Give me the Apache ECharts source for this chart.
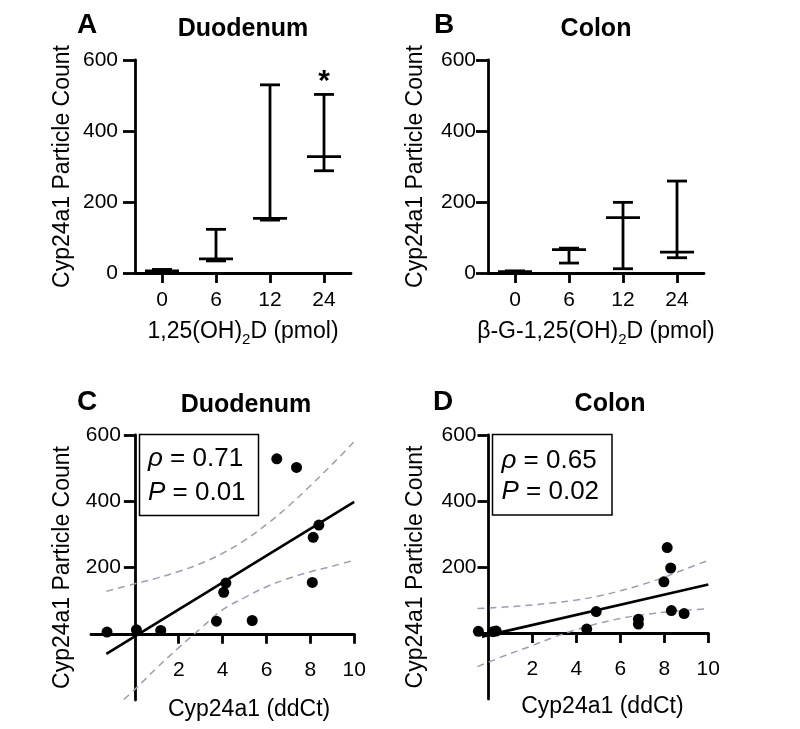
<!DOCTYPE html>
<html>
<head>
<meta charset="utf-8">
<script src="https://cdn.jsdelivr.net/npm/echarts@6/dist/echarts.min.js"></script>
<style>
  html, body { margin: 0; padding: 0; background: #fff; }
  #chart { width: 800px; height: 729px; }
</style>
</head>
<body>
<div id="chart"></div>
<script>
// ---------- DATA ----------
const doseCats = ['0', '6', '12', '24'];

// Panel A: Duodenum, 1,25(OH)2D  (median with range)
const duoMedian = [6, 40, 154, 328];
const duoLow    = [3, 34, 149, 288];
const duoHigh   = [10, 123, 530, 503];
const duoSig    = ['', '', '', '*'];

// Panel B: Colon, beta-G-1,25(OH)2D
const colMedian = [4, 66, 156, 59];
const colLow    = [2, 28, 12, 43];
const colHigh   = [6, 70, 199, 259];

// Panel C: Duodenum correlation
const duoDdct  = [-1.27, 0.07, 1.18, 3.72, 4.05, 4.15, 5.35, 6.47, 7.37, 8.09, 8.13, 8.39];
const duoCount = [5, 12, 10, 38, 125, 153, 40, 528, 502, 155, 291, 328];
const duoFitX  = [-1.3, 10];
const duoFitY  = [-61, 398];
const duoUpX   = [-1.3, 0, 1, 2, 3, 4, 5, 6, 7, 8, 9, 10];
const duoUpY   = [128, 151, 168, 188, 212, 243, 282, 330, 385, 447, 512, 580];
const duoLoX   = [-0.5, 0, 1, 2, 3, 4, 5, 6, 7, 8, 9, 10];
const duoLoY   = [-198, -168, -103, -42, 16, 72, 109, 142, 167, 187, 204, 222];
const duoRho = '0.71';
const duoP   = '0.01';

// Panel D: Colon correlation
const colDdct  = [-0.46, 0.2, 0.35, 4.47, 4.9, 6.82, 6.82, 7.98, 8.13, 8.29, 8.32, 8.9];
const colCount = [5, 4, 6, 12, 65, 42, 27, 155, 259, 197, 68, 59];
const colFitX  = [-0.3, 10];
const colFitY  = [-11, 147];
const colUpX   = [-0.5, 1, 2, 3, 4, 5, 6, 7, 8, 9, 10];
const colUpY   = [74, 80, 85, 92, 100, 112, 128, 147, 169, 195, 220];
const colLoX   = [-0.5, 1, 2, 3, 4, 5, 6, 7, 8, 9, 10];
const colLoY   = [-102, -62, -38, -12, 10, 29, 44, 55, 63, 69, 74];
const colRho = '0.65';
const colP   = '0.02';

const ddctTicks = [2, 4, 6, 8, 10];
const countTicksCorr = [200, 400, 600];

// ---------- STYLE / LAYOUT ----------
const FONT = 'Liberation Sans, Arial, Helvetica, sans-serif';
const AX_W = 2.8;
const BAND_COLOR = '#9d9db3';

const gridA = { left: 135, top: 60, width: 216, height: 213 };
const gridB = { left: 488, top: 60, width: 216, height: 213 };
const gridC = { left: 91, top: 435, width: 263.2, height: 265 };
const gridD = { left: 477.5, top: 435, width: 230.8, height: 264 };
const cX = [-2, 10], cY = [-200, 600];
const dX = [-0.5, 10], dY = [-200, 600];

const chart = echarts.init(document.getElementById('chart'), null, { renderer: 'canvas' });

const zip = (a, b) => a.map((v, i) => [v, b[i]]);

function errorBarRender(sig) {
  return function (params, api) {
    const i = api.value(0);
    const pm = api.coord([i, api.value(1)]);
    const pl = api.coord([i, api.value(2)]);
    const ph = api.coord([i, api.value(3)]);
    const x = pm[0];
    const st = { stroke: '#000', lineWidth: AX_W };
    const medHalf = 17, capHalf = 10;
    const children = [
      { type: 'line', shape: { x1: x, y1: ph[1], x2: x, y2: pl[1] }, style: st },
      { type: 'line', shape: { x1: x - capHalf, y1: ph[1], x2: x + capHalf, y2: ph[1] }, style: st },
      { type: 'line', shape: { x1: x - capHalf, y1: pl[1], x2: x + capHalf, y2: pl[1] }, style: st },
      { type: 'line', shape: { x1: x - medHalf, y1: pm[1], x2: x + medHalf, y2: pm[1] }, style: st }
    ];
    const s = sig ? sig[params.dataIndex] : '';
    if (s) {
      children.push({
        type: 'text',
        x: x, y: ph[1] - 13,
        style: { text: s, font: 'bold 30px ' + FONT, fill: '#000', align: 'center', verticalAlign: 'middle' }
      });
    }
    return { type: 'group', children };
  };
}

const axisLineStyle = { color: '#000', width: AX_W };
const labelStyle = { color: '#000', fontSize: 21, fontFamily: FONT };
const nameStyle = { color: '#000', fontSize: 23, fontFamily: FONT };

function catX(gridIndex, name) {
  return {
    type: 'category', gridIndex, data: doseCats, boundaryGap: true,
    axisLine: { show: true, onZero: false, lineStyle: axisLineStyle },
    axisTick: { show: true, alignWithLabel: true, length: 10, lineStyle: axisLineStyle },
    axisLabel: Object.assign({ margin: 17, interval: 0 }, labelStyle),
    splitLine: { show: false },
    name, nameLocation: 'middle', nameGap: 44, nameMoveOverlap: false,
    nameTextStyle: Object.assign({}, nameStyle, {
      lineHeight: 30,
      rich: { sub: { fontSize: 15, lineHeight: 16, verticalAlign: 'bottom', color: '#000', fontFamily: FONT } }
    })
  };
}
function countY(gridIndex, margin) {
  return {
    type: 'value', gridIndex, min: 0, max: 600, interval: 200,
    axisLine: { show: true, onZero: false, lineStyle: axisLineStyle },
    axisTick: { show: true, length: 12, lineStyle: axisLineStyle },
    axisLabel: Object.assign({ margin }, labelStyle),
    splitLine: { show: false },
    name: 'Cyp24a1 Particle Count', nameLocation: 'middle', nameGap: 61, nameMoveOverlap: false,
    nameTextStyle: nameStyle
  };
}
// the x axis sits on y = 0 : shift it up from the grid bottom by the position of 0
function ddctX(gridIndex, grid, xr, yr, padLeft, gap) {
  const zeroOffset = -grid.height * (0 - yr[0]) / (yr[1] - yr[0]);
  return {
    type: 'value', gridIndex, min: xr[0], max: xr[1], position: 'bottom', offset: zeroOffset,
    axisLine: { show: true, onZero: false, lineStyle: axisLineStyle },
    axisTick: { show: true, customValues: ddctTicks, length: 10, lineStyle: axisLineStyle },
    axisLabel: Object.assign({ customValues: ddctTicks, margin: 26 }, labelStyle),
    splitLine: { show: false },
    name: 'Cyp24a1 (ddCt)', nameLocation: 'middle', nameGap: gap, nameMoveOverlap: false,
    nameTextStyle: Object.assign({}, nameStyle, { padding: [0, 0, 0, padLeft] })
  };
}
// the y axis sits on x = 0
function corrY(gridIndex, grid, xr, yr, margin) {
  const zeroOffset = -grid.width * (0 - xr[0]) / (xr[1] - xr[0]);
  return {
    type: 'value', gridIndex, min: yr[0], max: yr[1], position: 'left', offset: zeroOffset,
    axisLine: { show: true, onZero: false, lineStyle: axisLineStyle },
    axisTick: { show: true, customValues: countTicksCorr, length: 11, lineStyle: axisLineStyle },
    axisLabel: Object.assign({ customValues: countTicksCorr, margin }, labelStyle),
    splitLine: { show: false },
    name: 'Cyp24a1 Particle Count', nameLocation: 'middle', nameGap: 61, nameMoveOverlap: false,
    nameTextStyle: nameStyle
  };
}

function txt(x, y, text, font, align) {
  return {
    type: 'text', x, y, z: 20,
    style: { text, font, fill: '#000', align: align || 'center', verticalAlign: 'middle' }
  };
}
function statBox(x, y, w, h, tx, ty1, ty2, rho, p) {
  const rich = { i: { fontStyle: 'italic', fontSize: 26, fontFamily: FONT, fill: '#000' } };
  return [
    { type: 'rect', z: 15, shape: { x, y, width: w, height: h }, style: { fill: '#fff', stroke: '#000', lineWidth: 1.5 } },
    { type: 'text', z: 20, x: tx, y: ty1, style: { text: '{i|ρ} = ' + rho, rich, font: '26px ' + FONT, fill: '#000', align: 'left', verticalAlign: 'middle' } },
    { type: 'text', z: 20, x: tx, y: ty2, style: { text: '{i|P} = ' + p, rich, font: '26px ' + FONT, fill: '#000', align: 'left', verticalAlign: 'middle' } }
  ];
}

const dashStyle = { color: BAND_COLOR, width: 1.5, type: [7, 5] };
const lineSeries = (xi, yi, xs, ys, style, smooth) => ({
  type: 'line', xAxisIndex: xi, yAxisIndex: yi, data: zip(xs, ys),
  showSymbol: false, symbol: 'none', smooth: smooth || false, lineStyle: style, clip: true, silent: true, z: 3
});

const gridCommon = { outerBoundsMode: 'none', containLabel: false };

const option = {
  animation: false,
  backgroundColor: '#fff',
  textStyle: { fontFamily: FONT },
  grid: [gridA, gridB, gridC, gridD].map(g => Object.assign({}, gridCommon, g)),
  xAxis: [
    catX(0, '1,25(OH){sub|2}D (pmol)'),
    catX(1, 'β-G-1,25(OH){sub|2}D (pmol)'),
    ddctX(2, gridC, cX, cY, 53, 64),
    ddctX(3, gridD, dX, dY, 19, 62)
  ],
  yAxis: [
    countY(0, 17),
    countY(1, 12),
    corrY(2, gridC, cX, cY, 14),
    corrY(3, gridD, dX, dY, 12)
  ],
  series: [
    {
      type: 'custom', xAxisIndex: 0, yAxisIndex: 0,
      data: doseCats.map((c, i) => [i, duoMedian[i], duoLow[i], duoHigh[i]]),
      encode: { x: 0, y: 1 }, renderItem: errorBarRender(duoSig), z: 5
    },
    {
      type: 'custom', xAxisIndex: 1, yAxisIndex: 1,
      data: doseCats.map((c, i) => [i, colMedian[i], colLow[i], colHigh[i]]),
      encode: { x: 0, y: 1 }, renderItem: errorBarRender(null), z: 5
    },
    lineSeries(2, 2, duoUpX, duoUpY, dashStyle, 0.4),
    lineSeries(2, 2, duoLoX, duoLoY, dashStyle, 0.4),
    lineSeries(2, 2, duoFitX, duoFitY, { color: '#000', width: 2.6 }),
    {
      type: 'scatter', xAxisIndex: 2, yAxisIndex: 2, data: zip(duoDdct, duoCount),
      symbolSize: 11, itemStyle: { color: '#000', opacity: 1 }, z: 6
    },
    lineSeries(3, 3, colUpX, colUpY, dashStyle, 0.4),
    lineSeries(3, 3, colLoX, colLoY, dashStyle, 0.4),
    lineSeries(3, 3, colFitX, colFitY, { color: '#000', width: 2.6 }),
    {
      type: 'scatter', xAxisIndex: 3, yAxisIndex: 3, data: zip(colDdct, colCount),
      symbolSize: 11, itemStyle: { color: '#000', opacity: 1 }, z: 6
    }
  ],
  graphic: [
    txt(87, 25, 'A', 'bold 28px ' + FONT),
    txt(243, 29, 'Duodenum', 'bold 25px ' + FONT),
    txt(444, 25, 'B', 'bold 28px ' + FONT),
    txt(596, 29, 'Colon', 'bold 25px ' + FONT),
    txt(87, 402, 'C', 'bold 28px ' + FONT),
    txt(246, 405, 'Duodenum', 'bold 25px ' + FONT),
    txt(443, 402, 'D', 'bold 28px ' + FONT),
    txt(610, 404, 'Colon', 'bold 25px ' + FONT)
  ].concat(
    statBox(139.5, 434.5, 119, 81, 148, 459, 492.5, duoRho, duoP),
    statBox(492.5, 434.5, 119.5, 80.5, 501.5, 461, 492, colRho, colP)
  )
};

chart.setOption(option);
</script>
</body>
</html>
